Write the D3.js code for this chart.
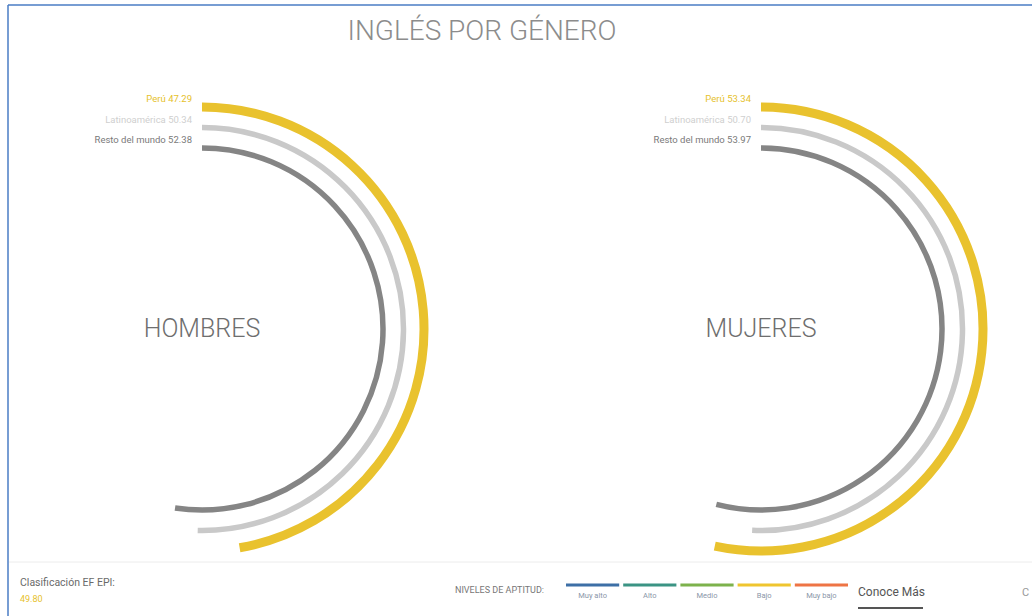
<!DOCTYPE html>
<html>
<head>
<meta charset="utf-8">
<script src="https://cdn.jsdelivr.net/npm/d3@7"></script>
<style>
  html, body { margin: 0; padding: 0; background: #fff; }
  svg { display: block; font-family: "Roboto", "DejaVu Sans", sans-serif; }
</style>
</head>
<body>
<svg id="chart" width="1032" height="616"></svg>
<script>
// ---- data ----
const title = "INGLÉS POR GÉNERO";
const groups = ["HOMBRES", "MUJERES"];
const seriesNames = ["Perú", "Latinoamérica", "Resto del mundo"];
const peru = [47.29, 53.34];
const latam = [50.34, 50.70];
const world = [52.38, 53.97];
const levels = ["Muy alto", "Alto", "Medio", "Bajo", "Muy bajo"];
const epiLabel = "Clasificación EF EPI:";
const epiScore = "49.80";
const levelsTitle = "NIVELES DE APTITUD:";
const linkText = "Conoce Más";

// ---- styles ----
const seriesColors = ["#e9c22e", "#c9c9c9", "#858585"];
const seriesWidths = [9, 5.5, 5.5];
const labelColors = ["#e6c12b", "#cfcfcf", "#7a7a7a"];
const levelColors = ["#3d6fa6", "#3b9484", "#7db24c", "#efc52f", "#ee7445"];

const svg = d3.select("#chart");
const W = 1032, H = 616;

// frame
svg.append("line").attr("x1", 8).attr("x2", W).attr("y1", 5).attr("y2", 5)
  .attr("stroke", "#4a7cc4").attr("stroke-width", 1.5);
svg.append("line").attr("x1", 8).attr("x2", 8).attr("y1", 5).attr("y2", H)
  .attr("stroke", "#4a7cc4").attr("stroke-width", 1.5);

// title
svg.append("text").attr("x", 482).attr("y", 40).attr("text-anchor", "middle")
  .attr("font-size", 28).attr("font-weight", 300).attr("fill", "#8c8c8c")
  .text(title);

// scales
const xCenter = d3.scalePoint().domain(groups).range([202, 761]);
const cy = 329;
const rScale = d3.scalePoint().domain(seriesNames).range([222, 181]);
const angle = d3.scaleLinear().domain([0, 100]).range([0, 2 * Math.PI]);
const values = [peru, latam, world];

groups.forEach((g, gi) => {
  const cx = xCenter(g);
  const gg = svg.append("g").attr("transform", `translate(${cx},${cy})`);
  seriesNames.forEach((s, si) => {
    const r = rScale(s);
    const v = values[si][gi];
    const arc = d3.arc()
      .innerRadius(r).outerRadius(r)
      .startAngle(0).endAngle(angle(v));
    gg.append("path").attr("d", arc())
      .attr("fill", "none")
      .attr("stroke", seriesColors[si])
      .attr("stroke-width", seriesWidths[si])
      .attr("stroke-linecap", "round");
    gg.append("text")
      .attr("x", -10).attr("y", -r - 5)
      .attr("text-anchor", "end")
      .attr("font-size", 9.5)
      .attr("fill", labelColors[si])
      .text(`${s} ${v.toFixed(2)}`);
  });
  gg.append("text").attr("x", 0).attr("y", 8).attr("text-anchor", "middle")
    .attr("font-size", 25).attr("font-weight", 300).attr("fill", "#6e6e6e")
    .text(g);
});

// footer
svg.append("line").attr("x1", 9).attr("x2", W).attr("y1", 562).attr("y2", 562)
  .attr("stroke", "#ececec").attr("stroke-width", 1);
svg.append("text").attr("x", 20).attr("y", 586).attr("font-size", 10.5)
  .attr("fill", "#6a6a6a").text(epiLabel);
svg.append("text").attr("x", 20).attr("y", 602).attr("font-size", 9)
  .attr("fill", "#e6c12b").text(epiScore);

svg.append("text").attr("x", 455).attr("y", 593).attr("font-size", 9)
  .attr("fill", "#777").text(levelsTitle);

const legX = d3.scaleBand().domain(levels).range([566, 848]).paddingInner(0.07);
levels.forEach((l, i) => {
  svg.append("line")
    .attr("x1", legX(l)).attr("x2", legX(l) + legX.bandwidth())
    .attr("y1", 585).attr("y2", 585)
    .attr("stroke", levelColors[i]).attr("stroke-width", 3);
  svg.append("text")
    .attr("x", legX(l) + legX.bandwidth() / 2).attr("y", 598)
    .attr("text-anchor", "middle").attr("font-size", 7.5)
    .attr("fill", "#8a96a8").text(l);
});

svg.append("text").attr("x", 858).attr("y", 596).attr("font-size", 12)
  .attr("fill", "#555").text(linkText);
svg.append("line").attr("x1", 858).attr("x2", 923).attr("y1", 608).attr("y2", 608)
  .attr("stroke", "#555").attr("stroke-width", 2);
svg.append("text").attr("x", 1022).attr("y", 596).attr("font-size", 11)
  .attr("fill", "#999").text("C");
</script>
</body>
</html>
